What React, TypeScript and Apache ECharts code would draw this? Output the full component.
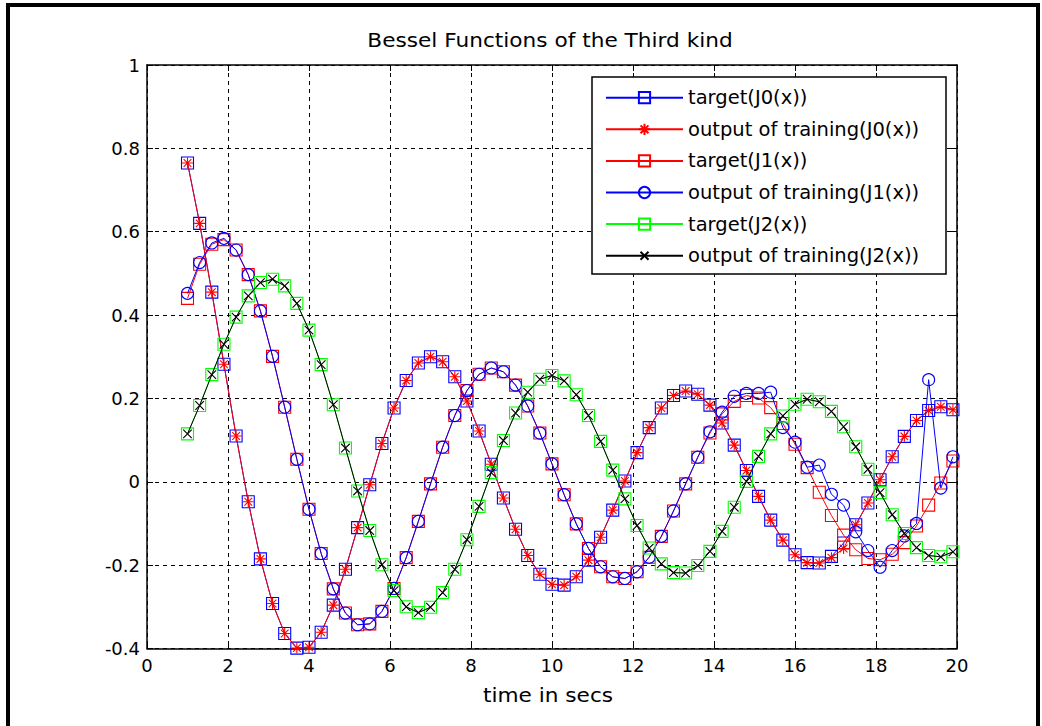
import React, { useEffect, useRef } from "react";
import * as echarts from "echarts";

// ---- data ----
const xValues = [
  1.0, 1.3, 1.6, 1.9, 2.2, 2.5, 2.8, 3.1, 3.4, 3.7, 4.0, 4.3, 4.6, 4.9, 5.2, 5.5,
  5.8, 6.1, 6.4, 6.7, 7.0, 7.3, 7.6, 7.9, 8.2, 8.5, 8.8, 9.1, 9.4, 9.7, 10.0, 10.3,
  10.6, 10.9, 11.2, 11.5, 11.8, 12.1, 12.4, 12.7, 13.0, 13.3, 13.6, 13.9, 14.2, 14.5, 14.8, 15.1,
  15.4, 15.7, 16.0, 16.3, 16.6, 16.9, 17.2, 17.5, 17.8, 18.1, 18.4, 18.7, 19.0, 19.3, 19.6, 19.9,
];

const targetJ0 = [
  0.765, 0.62, 0.455, 0.282, 0.11, -0.048, -0.185, -0.292, -0.364, -0.399, -0.397, -0.361, -0.296, -0.21, -0.11, -0.007,
  0.092, 0.177, 0.243, 0.285, 0.3, 0.288, 0.252, 0.194, 0.122, 0.042, -0.039, -0.114, -0.177, -0.222, -0.246, -0.248,
  -0.228, -0.188, -0.133, -0.068, 0.002, 0.07, 0.13, 0.177, 0.207, 0.218, 0.21, 0.184, 0.141, 0.088, 0.027, -0.035,
  -0.092, -0.14, -0.175, -0.194, -0.195, -0.179, -0.147, -0.103, -0.051, 0.005, 0.06, 0.109, 0.147, 0.171, 0.18, 0.173,
];

const outputJ0 = [
  0.765, 0.62, 0.455, 0.282, 0.11, -0.048, -0.185, -0.292, -0.364, -0.399, -0.397, -0.361, -0.296, -0.21, -0.11, -0.007,
  0.092, 0.177, 0.243, 0.285, 0.3, 0.288, 0.252, 0.194, 0.122, 0.042, -0.039, -0.114, -0.177, -0.222, -0.246, -0.248,
  -0.228, -0.188, -0.133, -0.068, 0.002, 0.07, 0.13, 0.177, 0.207, 0.218, 0.21, 0.184, 0.141, 0.088, 0.027, -0.035,
  -0.092, -0.14, -0.175, -0.194, -0.195, -0.182, -0.16, -0.103, -0.051, 0.005, 0.06, 0.109, 0.147, 0.171, 0.18, 0.173,
];

const targetJ1 = [
  0.44, 0.522, 0.57, 0.581, 0.556, 0.497, 0.41, 0.301, 0.179, 0.054, -0.066, -0.172, -0.257, -0.315, -0.343, -0.341,
  -0.311, -0.256, -0.182, -0.095, -0.005, 0.083, 0.159, 0.219, 0.258, 0.273, 0.264, 0.232, 0.182, 0.117, 0.043, -0.031,
  -0.101, -0.16, -0.204, -0.228, -0.232, -0.216, -0.181, -0.131, -0.07, -0.005, 0.059, 0.117, 0.163, 0.193, 0.207, 0.201,
  0.178, 0.14, 0.09, 0.034, -0.025, -0.081, -0.128, -0.163, -0.184, -0.187, -0.174, -0.146, -0.106, -0.056, -0.003, 0.05,
];

const outputJ1 = [
  0.452, 0.526, 0.573, 0.584, 0.556, 0.497, 0.41, 0.301, 0.179, 0.054, -0.066, -0.172, -0.257, -0.315, -0.343, -0.341,
  -0.311, -0.256, -0.182, -0.095, -0.005, 0.083, 0.159, 0.219, 0.258, 0.273, 0.264, 0.232, 0.182, 0.117, 0.043, -0.031,
  -0.101, -0.16, -0.204, -0.228, -0.232, -0.216, -0.181, -0.131, -0.07, -0.005, 0.059, 0.12, 0.167, 0.205, 0.212, 0.212,
  0.215, 0.13, 0.095, 0.035, 0.04, -0.03, -0.056, -0.12, -0.165, -0.205, -0.165, -0.13, -0.1, 0.245, -0.015, 0.06,
];

const targetJ2 = [
  0.115, 0.183, 0.257, 0.33, 0.395, 0.446, 0.478, 0.486, 0.47, 0.428, 0.364, 0.281, 0.185, 0.081, -0.022, -0.117,
  -0.199, -0.261, -0.3, -0.314, -0.301, -0.266, -0.21, -0.139, -0.059, 0.022, 0.099, 0.165, 0.215, 0.246, 0.255, 0.242,
  0.209, 0.159, 0.097, 0.028, -0.041, -0.105, -0.159, -0.197, -0.218, -0.219, -0.201, -0.167, -0.119, -0.061, 0.001, 0.061,
  0.115, 0.158, 0.186, 0.198, 0.192, 0.169, 0.132, 0.084, 0.03, -0.026, -0.079, -0.124, -0.158, -0.177, -0.18, -0.168,
];

const outputJ2 = [
  0.115, 0.183, 0.257, 0.33, 0.395, 0.446, 0.478, 0.486, 0.47, 0.428, 0.364, 0.281, 0.185, 0.081, -0.022, -0.117,
  -0.199, -0.261, -0.3, -0.314, -0.301, -0.266, -0.21, -0.139, -0.059, 0.022, 0.099, 0.165, 0.215, 0.246, 0.255, 0.242,
  0.209, 0.159, 0.097, 0.028, -0.041, -0.105, -0.159, -0.197, -0.218, -0.219, -0.201, -0.167, -0.119, -0.061, 0.001, 0.061,
  0.115, 0.158, 0.186, 0.198, 0.192, 0.169, 0.132, 0.084, 0.03, -0.026, -0.079, -0.124, -0.158, -0.177, -0.18, -0.168,
];

const seriesNames = [
  "target(J0(x))",
  "output of training(J0(x))",
  "target(J1(x))",
  "output of training(J1(x))",
  "target(J2(x))",
  "output of training(J2(x))",
];

const xTicks = { min: 0, max: 20, interval: 2 };
const yTicks = { min: -0.4, max: 1, interval: 0.2 };

const titleText = "Bessel Functions of the Third kind";
const xLabelText = "time in secs";

const FONT = "'DejaVu Sans', 'Liberation Sans', Arial, sans-serif";

// marker shapes (an extra invisible bounding move keeps the x-mark small)
const ASTERISK = "path://M5 0V10M0 5H10M1.5 1.5L8.5 8.5M8.5 1.5L1.5 8.5";
const CROSS = "path://M-2 -2M12 12M0 0L10 10M10 0L0 10";

function pairs(ys: number[]) {
  return xValues.map((x, i) => [x, ys[i]]);
}

function lineSeries(
  name: string,
  ys: number[],
  symbol: string,
  size: number,
  markerColor: string,
  lineColor: string,
  z: number
) {
  return {
    name,
    type: "line",
    data: pairs(ys),
    symbol,
    symbolSize: size,
    showSymbol: true,
    clip: false,
    z,
    lineStyle: { color: lineColor, width: 1 },
    itemStyle: { color: "rgba(0,0,0,0)", borderColor: markerColor, borderWidth: 1.1 },
    emphasis: { disabled: true },
  };
}

const axisBase = {
  type: "value",
  axisLine: { show: true, onZero: false, lineStyle: { color: "#000", width: 1.5 } },
  axisTick: { show: true, inside: true, length: 6, lineStyle: { color: "#000", width: 1 } },
};

export default function App() {
  const ref = useRef<HTMLDivElement>(null);

  useEffect(() => {
    document.body.style.margin = "0";
    if (!ref.current) return;
    const chart = echarts.init(ref.current, undefined, { renderer: "svg" });

    const gridLeft = 147;
    const gridRight = 957;
    const gridTop = 65;
    const gridBottom = 648.5;

    const option: any = {
      animation: false,
      backgroundColor: "#ffffff",
      grid: {
        left: gridLeft,
        top: gridTop,
        width: gridRight - gridLeft,
        height: gridBottom - gridTop,
        containLabel: false,
      },
      xAxis: [
        {
          ...axisBase,
          ...xTicks,
          axisLabel: { color: "#000", fontSize: 18, fontFamily: FONT, margin: 8 },
          splitLine: { show: true, lineStyle: { color: "#000", width: 1, type: [4, 4] } },
        },
        {
          ...axisBase,
          position: "top",
          ...xTicks,
          axisLabel: { show: false },
          splitLine: { show: false },
        },
      ],
      yAxis: [
        {
          ...axisBase,
          ...yTicks,
          axisLabel: {
            color: "#000",
            fontSize: 18,
            fontFamily: FONT,
            margin: 7,
            formatter: (v: number) => String(Number(v.toFixed(1))),
          },
          splitLine: { show: true, lineStyle: { color: "#000", width: 1, type: [4, 4] } },
        },
        {
          ...axisBase,
          position: "right",
          ...yTicks,
          axisLabel: { show: false },
          splitLine: { show: false },
        },
      ],
      legend: {
        orient: "vertical",
        left: 605,
        top: 87.7,
        padding: 0,
        itemWidth: 77,
        itemHeight: 14,
        itemGap: 11.6,
        z: 20,
        selectedMode: false,
        textStyle: { color: "#000", fontSize: 19.5, fontFamily: FONT },
        data: seriesNames,
      },
      graphic: [
        {
          type: "rect",
          z: 15,
          shape: { x: 592, y: 77, width: 354, height: 197 },
          style: { fill: "#fff", stroke: "#000", lineWidth: 1.5 },
        },
        {
          type: "text",
          x: 550,
          y: 40,
          scaleX: 1.11,
          style: {
            text: titleText,
            fill: "#000",
            font: `19.5px ${FONT}`,
            textAlign: "center",
            textVerticalAlign: "middle",
          },
        },
        {
          type: "text",
          x: 548,
          y: 695,
          scaleX: 1.11,
          style: {
            text: xLabelText,
            fill: "#000",
            font: `19.5px ${FONT}`,
            textAlign: "center",
            textVerticalAlign: "middle",
          },
        },
        // outer figure frame
        { type: "rect", shape: { x: 6, y: 3, width: 1034, height: 4 }, style: { fill: "#000" } },
        { type: "rect", shape: { x: 6, y: 3, width: 4, height: 723 }, style: { fill: "#000" } },
        { type: "rect", shape: { x: 1036, y: 3, width: 4, height: 723 }, style: { fill: "#000" } },
      ],
      series: [
        lineSeries(seriesNames[0], targetJ0, "rect", 12, "#0000ff", "#0000ff", 3),
        lineSeries(seriesNames[1], outputJ0, ASTERISK, 11, "#ff0000", "#ff0000", 4),
        lineSeries(seriesNames[2], targetJ1, "rect", 12, "#ff0000", "#ff0000", 5),
        lineSeries(seriesNames[3], outputJ1, "circle", 12, "#0000ff", "#0000ff", 6),
        lineSeries(seriesNames[4], targetJ2, "rect", 12, "#00ff00", "#00ff00", 7),
        lineSeries(seriesNames[5], outputJ2, CROSS, 12, "#000000", "#000000", 8),
      ],
    };

    chart.setOption(option);
    return () => chart.dispose();
  }, []);

  return <div ref={ref} style={{ width: 1042, height: 726 }} />;
}
